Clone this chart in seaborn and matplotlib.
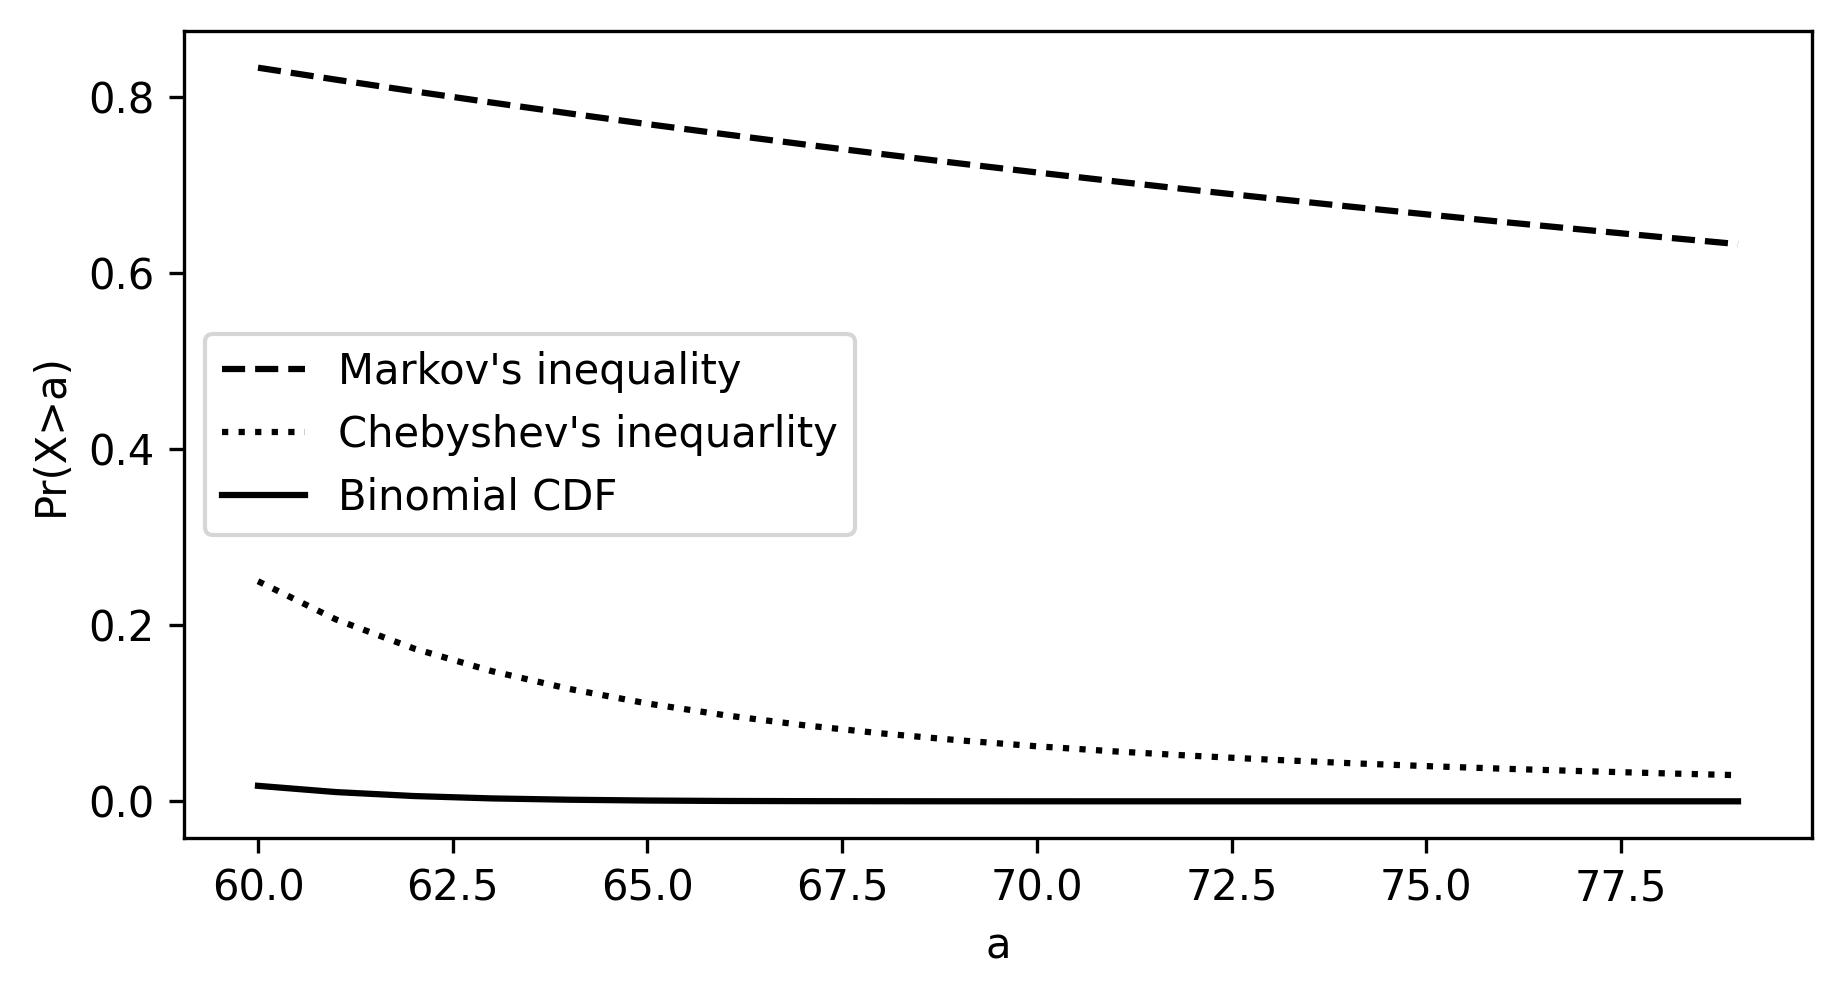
import matplotlib
matplotlib.use("Agg")
import matplotlib.pyplot as plt
import seaborn as sns
import pandas as pd

a_values = list(range(60, 80))
markov = [0.8333, 0.8197, 0.8065, 0.7937, 0.7813, 0.7692, 0.7576, 0.7463, 0.7353, 0.7246,
          0.7143, 0.7042, 0.6944, 0.6849, 0.6757, 0.6667, 0.6579, 0.6494, 0.6410, 0.6329]
chebyshev = [0.2500, 0.2066, 0.1736, 0.1479, 0.1276, 0.1111, 0.0977, 0.0865, 0.0772, 0.0693,
             0.0625, 0.0567, 0.0517, 0.0473, 0.0434, 0.0400, 0.0370, 0.0343, 0.0319, 0.0297]
binomial = [0.0176, 0.0105, 0.0060, 0.0033, 0.0018, 0.0009, 0.0004, 0.0002, 0.0001, 0.00004,
            0.00002, 0.00001, 0.0, 0.0, 0.0, 0.0, 0.0, 0.0, 0.0, 0.0]
labels = ["Markov's inequality", "Chebyshev's inequarlity", "Binomial CDF"]
styles = ["--", ":", "-"]

plt.rcParams['font.family'] = ['DejaVu Sans']

fig, ax = plt.subplots(figsize=(1841/300, 998/300), dpi=300)
fig.subplots_adjust(left=184/1841, right=1812/1841, top=1-31/998, bottom=1-838/998)

for series, label, ls in zip([markov, chebyshev, binomial], labels, styles):
    df = pd.DataFrame({"a": a_values, "p": series})
    sns.lineplot(data=df, x="a", y="p", ax=ax, color="black", linestyle=ls, label=label)

ax.set_xlabel("a")
ax.set_ylabel("Pr(X>a)")
ax.legend(loc="center left")
fig.savefig("out.png", dpi=300)
